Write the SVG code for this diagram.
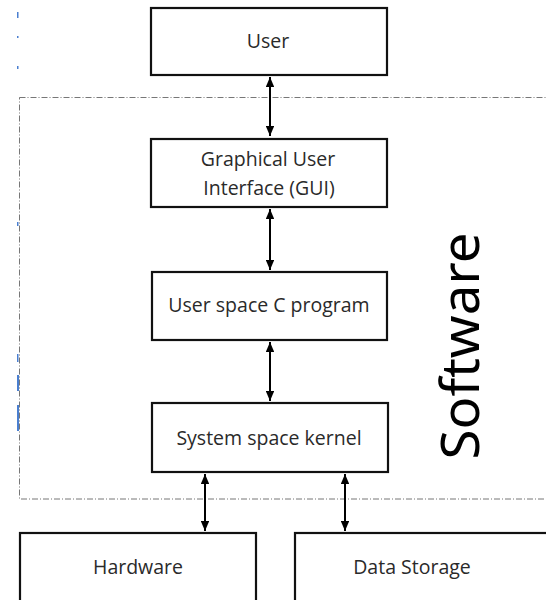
<svg xmlns="http://www.w3.org/2000/svg" width="546" height="600" viewBox="0 0 546 600">
<defs>
<marker id="ah" viewBox="0 0 12 10" refX="12" refY="5" markerWidth="5" markerHeight="4.2" orient="auto-start-reverse" markerUnits="strokeWidth">
<path d="M0,0 L12,5 L0,10 z" fill="#000"/>
</marker>
<style>
.box{fill:#fff;stroke:#111;stroke-width:2.2}
.lbl{font-family:"Open Sans","Noto Sans",sans-serif;font-size:19.5px;fill:#2a2a2a;text-anchor:middle}
.con{stroke:#000;stroke-width:2;fill:none;marker-start:url(#ah);marker-end:url(#ah)}
</style>
</defs>
<rect width="546" height="600" fill="#fff"/>
<g id="noise" fill="#4a7fd0">
<rect x="17" y="12" width="1.5" height="6"/>
<rect x="17" y="36" width="1.5" height="2"/>
<rect x="17" y="66" width="1.5" height="3"/>
<rect x="17" y="222" width="1.5" height="4"/>
<rect x="17" y="354" width="1.5" height="8"/>
<rect x="17" y="375" width="2" height="16"/>
<rect x="17" y="405" width="2" height="26"/>
</g>
<g id="software">
<rect x="19.5" y="97.5" width="540" height="401.5" fill="none" stroke="#777" stroke-width="1" stroke-dasharray="6,2,1,2"/>
<text x="0" y="0" transform="translate(479,346) rotate(-90)" font-family="'Noto Sans','Open Sans',sans-serif" font-size="52" fill="#000" text-anchor="middle" textLength="227" lengthAdjust="spacingAndGlyphs">Software</text>
</g>
<g id="connectors">
<line class="con" x1="270" y1="77" x2="270" y2="136"/>
<line class="con" x1="270" y1="209" x2="270" y2="270"/>
<line class="con" x1="270" y1="342" x2="270" y2="401"/>
<line class="con" x1="205" y1="474" x2="205" y2="531"/>
<line class="con" x1="345" y1="474" x2="345" y2="531"/>
</g>
<g id="user">
<rect class="box" x="151" y="8" width="236" height="67"/>
<text class="lbl" x="268" y="48">User</text>
</g>
<g id="gui">
<rect class="box" x="151" y="139" width="236" height="68"/>
<text class="lbl" x="268" y="166">Graphical User</text>
<text class="lbl" x="269" y="195">Interface (GUI)</text>
</g>
<g id="userspace">
<rect class="box" x="152" y="272" width="235" height="68"/>
<text class="lbl" x="269" y="312">User space C program</text>
</g>
<g id="kernel">
<rect class="box" x="152" y="403" width="236" height="69"/>
<text class="lbl" x="269" y="445">System space kernel</text>
</g>
<g id="hardware">
<rect class="box" x="20" y="533" width="236" height="72"/>
<text class="lbl" x="138" y="574">Hardware</text>
</g>
<g id="datastorage">
<rect class="box" x="295" y="533" width="260" height="72"/>
<text class="lbl" x="412" y="574">Data Storage</text>
</g>
</svg>
